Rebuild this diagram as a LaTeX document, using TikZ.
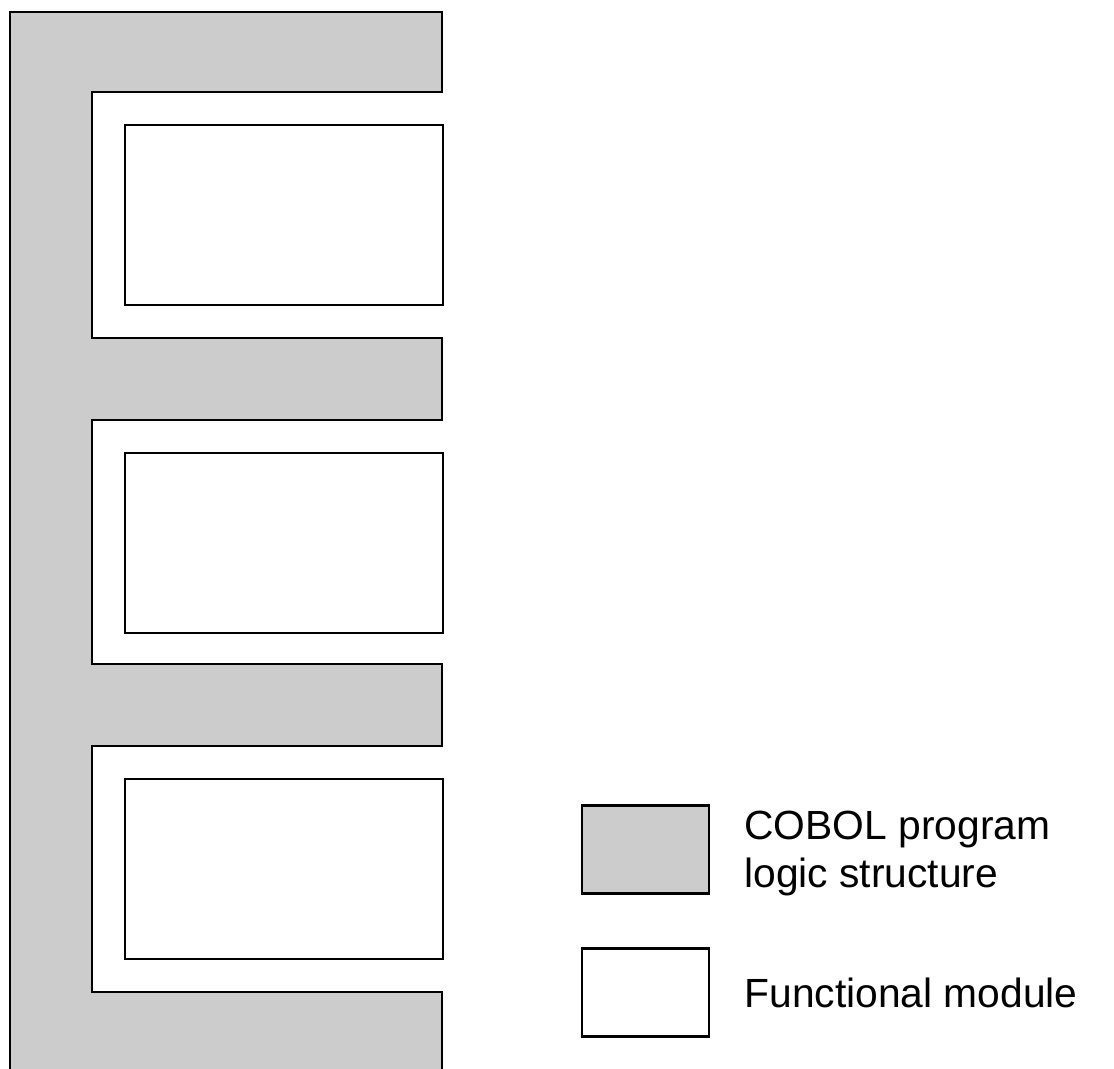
\documentclass[tikz,border=0pt]{standalone}
\usepackage{fontspec}
\setmainfont{Liberation Sans}
\usepackage{tikz}
\usetikzlibrary{positioning}

\begin{document}
\begin{tikzpicture}[
    x=0.025cm, y=-0.025cm,
    node distance=0.85cm,
    structure/.style={draw, line width=1.6pt, fill=black!20},
    module/.style={rectangle, draw, line width=1.6pt, fill=white, inner sep=0pt,
                   anchor=north west, minimum width=7.95cm, minimum height=4.5cm},
    legendbox/.style={rectangle, draw, line width=1.6pt, inner sep=0pt,
                      minimum width=3.175cm, minimum height=2.2cm},
    legendtext/.style={inner sep=0pt, align=left, font=\fontsize{29}{34.5}\selectfont}
]

\clip (0,0) rectangle (1114,1068);

% Program logic structure (comb running off the bottom)
\draw[structure] (10,1090) -- (10,12) -- (442,12) -- (442,92) -- (92,92)
    -- (92,338) -- (442,338) -- (442,420) -- (92,420)
    -- (92,664) -- (442,664) -- (442,746) -- (92,746)
    -- (92,992) -- (442,992) -- (442,1090);

% Functional modules
\node[module] (mod1) at (124,124) {};
\node[module] (mod2) at (124,452) {};
\node[module] (mod3) at (124,778) {};

% Legend
\node[legendbox, fill=black!20] (keylogic) at (645.5,849.5) {};
\node[legendbox, fill=white] (keymod) at (645.5,992.5) {};
\node[legendtext, right=of keylogic, yshift=-0.1cm] (keylogictext) {COBOL program\\logic structure};
\node[legendtext, right=of keymod] (keymodtext) {Functional module};

\end{tikzpicture}
\end{document}
